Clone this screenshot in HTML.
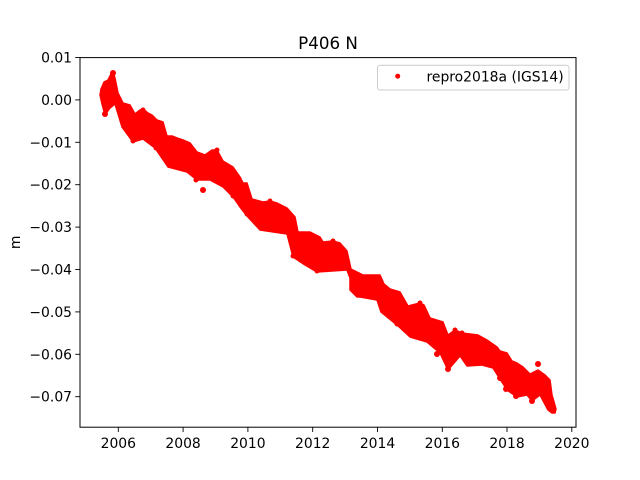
<!DOCTYPE html>
<html><head><meta charset="utf-8"><style>
html,body{margin:0;padding:0;background:#fff;}
svg{display:block;}
text{font-family:"DejaVu Sans","Liberation Sans",sans-serif;fill:#000;}
</style></head><body>
<svg width="640" height="480" viewBox="0 0 640 480" xmlns="http://www.w3.org/2000/svg">
<rect width="640" height="480" fill="#fff"/>
<!-- data band -->
<path fill="#ff0000" stroke="#ff0000" stroke-width="1.5" stroke-linejoin="round" d="
M101,89 L104,82 L108,80 L111,74 L113,72 L115,78 L117,88 L118,93 L123,103 L130,105 L135,114 L140,110 L143,109 L148,113 L152,115 L157,120 L163,122 L167,136 L172,136 L177,138 L183,140 L190,143 L197,152 L205,155 L212,150 L217,150 L223,161 L233,167 L240,177 L243,183 L247,183 L252,199 L263,202 L270,201 L277,203 L287,208 L295,217 L298,232 L310,232 L320,237 L323,242 L333,241 L340,243 L347,251 L351,269 L363,275 L380,275 L384,284 L390,289 L400,292 L408,306 L420,303 L424,305 L430,318 L443,322 L448,335 L455,330 L462,333 L470,334 L478,335 L487,340 L497,347 L500,351 L507,353 L512,361 L517,363 L523,367 L530,374 L538,370 L545,375 L550,380 L552,395 L556,409
L555,413 L552,413 L548,410 L540,395 L532,401 L527,395 L517,397 L507,390 L500,379 L493,368 L482,365 L467,366 L460,356 L448,370 L440,353 L427,342 L410,337 L397,325 L381,312 L377,300 L360,297 L357,297 L350,290 L350,278 L347,270 L317,272 L305,265 L293,257 L287,234 L260,230 L247,216 L240,207 L233,197 L223,187 L210,180 L197,180 L187,172 L168,167 L155,148 L143,139 L133,142 L122,127 L115,104 L110,108 L105,115 L102,104 L100,95 Z"/>
<!-- edge texture and outliers -->
<g fill="#ff0000">
<circle cx="203" cy="190" r="3"/>
<circle cx="437" cy="354" r="3"/>
<circle cx="448" cy="369" r="3"/>
<circle cx="500" cy="378" r="3"/>
<circle cx="506" cy="389" r="3"/>
<circle cx="516" cy="396" r="3"/>
<circle cx="538" cy="364" r="3"/>
<circle cx="532" cy="401" r="3"/>
<circle cx="113" cy="73" r="3"/>
<circle cx="105" cy="114" r="3"/>
<circle cx="133" cy="141" r="2.5"/>
<circle cx="156" cy="148" r="2.5"/>
<circle cx="196" cy="180" r="2.5"/>
<circle cx="233" cy="196" r="2.5"/>
<circle cx="247" cy="214" r="2.5"/>
<circle cx="293" cy="256" r="2.5"/>
<circle cx="317" cy="271" r="2.5"/>
<circle cx="397" cy="324" r="2.5"/>
<circle cx="143" cy="110" r="2.5"/>
<circle cx="217" cy="150" r="2.5"/>
<circle cx="270" cy="201" r="2.5"/>
<circle cx="333" cy="241" r="2.5"/>
<circle cx="420" cy="303" r="2.5"/>
<circle cx="455" cy="330" r="2.5"/>
<circle cx="462" cy="333" r="2.5"/>
</g>
<!-- axes frame -->
<rect x="80" y="57.6" width="496" height="369.6" fill="none" stroke="#000" stroke-width="1"/>
<!-- y ticks -->
<g stroke="#000" stroke-width="0.9">
<line x1="75.2" y1="57.5" x2="80" y2="57.5"/>
<line x1="75.2" y1="99.9" x2="80" y2="99.9"/>
<line x1="75.2" y1="142.3" x2="80" y2="142.3"/>
<line x1="75.2" y1="184.7" x2="80" y2="184.7"/>
<line x1="75.2" y1="227.1" x2="80" y2="227.1"/>
<line x1="75.2" y1="269.5" x2="80" y2="269.5"/>
<line x1="75.2" y1="311.9" x2="80" y2="311.9"/>
<line x1="75.2" y1="354.3" x2="80" y2="354.3"/>
<line x1="75.2" y1="396.7" x2="80" y2="396.7"/>
</g>
<g font-size="13.9" text-anchor="end">
<text x="72" y="62.5">0.01</text>
<text x="72" y="104.9">0.00</text>
<text x="72" y="147.3">−0.01</text>
<text x="72" y="189.7">−0.02</text>
<text x="72" y="232.1">−0.03</text>
<text x="72" y="274.5">−0.04</text>
<text x="72" y="316.9">−0.05</text>
<text x="72" y="359.3">−0.06</text>
<text x="72" y="401.7">−0.07</text>
</g>
<!-- x ticks -->
<g stroke="#000" stroke-width="0.9">
<line x1="118.3" y1="427.2" x2="118.3" y2="432"/>
<line x1="183.1" y1="427.2" x2="183.1" y2="432"/>
<line x1="247.9" y1="427.2" x2="247.9" y2="432"/>
<line x1="312.7" y1="427.2" x2="312.7" y2="432"/>
<line x1="377.5" y1="427.2" x2="377.5" y2="432"/>
<line x1="442.3" y1="427.2" x2="442.3" y2="432"/>
<line x1="507.0" y1="427.2" x2="507.0" y2="432"/>
<line x1="571.8" y1="427.2" x2="571.8" y2="432"/>
</g>
<g font-size="13.9" text-anchor="middle">
<text x="118.3" y="448">2006</text>
<text x="183.1" y="448">2008</text>
<text x="247.9" y="448">2010</text>
<text x="312.7" y="448">2012</text>
<text x="377.5" y="448">2014</text>
<text x="442.3" y="448">2016</text>
<text x="507.0" y="448">2018</text>
<text x="571.8" y="448">2020</text>
</g>
<!-- y label -->
<text font-size="13.9" text-anchor="middle" transform="translate(20,242.4) rotate(-90)">m</text>
<!-- title -->
<text x="328" y="49" font-size="16.7" text-anchor="middle">P406 N</text>
<!-- legend -->
<rect x="377.5" y="65.2" width="191.5" height="24.8" rx="2.5" ry="2.5" fill="#fff" fill-opacity="0.8" stroke="#cccccc" stroke-width="1"/>
<circle cx="397.7" cy="76.2" r="2.5" fill="#ff0000"/>
<text x="426.5" y="81.5" font-size="13.9">repro2018a (IGS14)</text>
</svg>
</body></html>
